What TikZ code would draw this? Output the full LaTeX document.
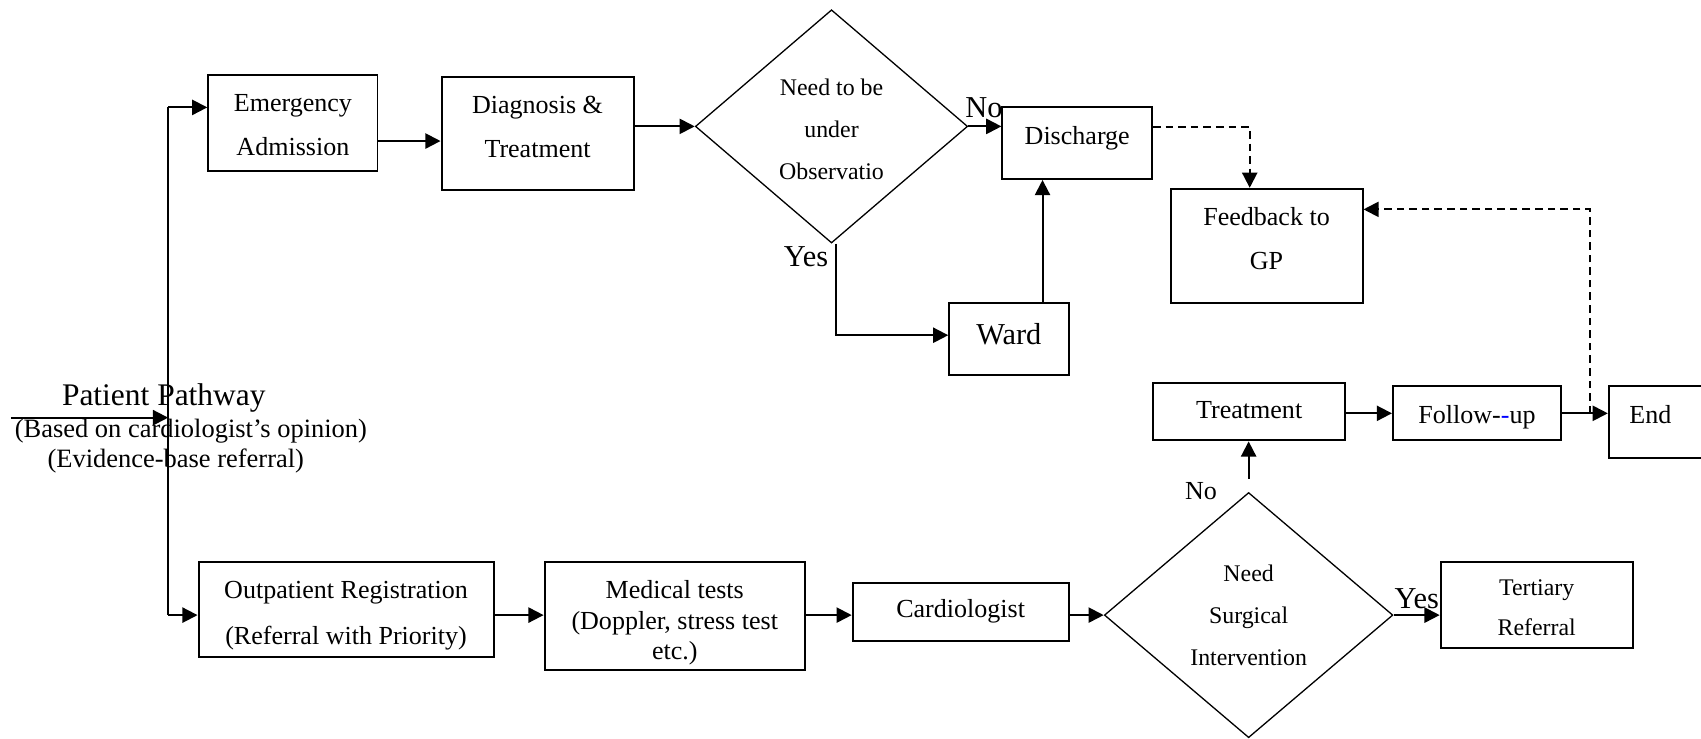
\documentclass[tikz,border=0pt]{standalone}
\usepackage{fontspec}
\setmainfont{Liberation Serif}
\usetikzlibrary{arrows.meta,shapes.geometric}
% fixed-size box content with text hanging from the top edge
\newcommand{\boxtext}[4]{\parbox[c][#2][t]{#1}{\centering\rule{0pt}{#3}#4\par}}

\begin{document}
\begin{tikzpicture}[x=0.5pt,y=-0.5pt,
  box/.style={draw,line width=0.9pt,inner sep=0pt,font=\fontsize{12}{20}\selectfont},
  decision/.style={draw,diamond,line width=0.6pt,inner sep=0pt,align=center,font=\fontsize{11}{19.5}\selectfont},
  arr/.style={line width=0.9pt,-{Triangle[length=7pt,width=7pt]}},
  link/.style={line width=0.9pt},
  dasharr/.style={line width=0.9pt,dash pattern=on 3.5pt off 2.3pt,-{Triangle[length=7pt,width=7pt]}},
  lbl/.style={inner sep=0pt,font=\fontsize{14}{16}\selectfont}
]
\useasboundingbox (0,0) rectangle (1568,681);

% upper branch: emergency route
\node[box] (emerg) at (270,113.5) {\boxtext{78pt}{44.5pt}{17pt}{Emergency\\Admission}};
\node[box] (diag) at (495.5,123) {\boxtext{88.5pt}{52pt}{17pt}{Diagnosis \&\\Treatment}};
\node[decision,minimum width=125.5pt,minimum height=107.5pt] (d1) at (766.5,116.5) {\rule{0pt}{10.5pt}Need to be\\under\\Observatio};
\node[box] (disch) at (993,132) {\boxtext{69pt}{33pt}{17pt}{Discharge}};
\node[box] (fb) at (1167.5,226.5) {\boxtext{88.5pt}{52.5pt}{17pt}{Feedback to\\GP}};
\node[box,font=\fontsize{14}{16}\selectfont] (ward) at (930,312.5) {\boxtext{55pt}{33.5pt}{19.5pt}{Ward}};

% right side: treatment and end
\node[box] (treat) at (1151.5,379.5) {\boxtext{88.5pt}{26.5pt}{16.5pt}{Treatment}};
\node[box] (follow) at (1361.5,381) {\boxtext{77.5pt}{25pt}{17pt}{Follow-\textcolor{blue}{-}up}};
\node[box] (end) at (1529,389) {\parbox[c][33pt][t]{46pt}{\raggedright\rule{0pt}{17pt}\hspace*{9.5pt}End\par}};

% lower branch: outpatient route
\node[box,font=\fontsize{12}{21}\selectfont] (outp) at (319,562) {\boxtext{136pt}{44pt}{17pt}{Outpatient Registration\\(Referral with Priority)}};
\node[box,font=\fontsize{12}{14}\selectfont] (med) at (622,568) {\boxtext{120pt}{50pt}{17pt}{Medical tests\\(Doppler, stress test\\etc.)}};
\node[box] (card) at (885.5,564) {\boxtext{99.5pt}{27pt}{16pt}{Cardiologist}};
\node[decision,minimum width=133pt,minimum height=113pt,font=\fontsize{11}{19.25}\selectfont] (d2) at (1151,567) {Need\\Surgical\\Intervention};
\node[box,font=\fontsize{11}{18.5}\selectfont] (tert) at (1416.5,557.5) {\boxtext{88.5pt}{39.5pt}{15.5pt}{Tertiary\\Referral}};

% branch labels
\node[lbl] (no1) at (907,99) {No};
\node[lbl] (yes1) at (743,237) {Yes};
\node[lbl,font=\fontsize{12}{14}\selectfont] (no2) at (1107,453) {No};
\node[lbl] (yes2) at (1306,552) {Yes};

% entry caption
\node[lbl,font=\fontsize{14.5}{16}\selectfont] (pp) at (151,367) {Patient Pathway};
\node[lbl,font=\fontsize{12.2}{14}\selectfont] (pp2) at (176,397) {(Based on cardiologist’s opinion)};
\node[lbl,font=\fontsize{12.2}{14}\selectfont] (pp3) at (162,425) {(Evidence-base referral)};

% entry and split
\coordinate (entry) at (10,385);
\coordinate (split) at (155,385);
\coordinate (upper) at (155,99);
\coordinate (lower) at (155,567);
\draw[arr] (entry) -- (split);
\draw[link] (upper) -- (lower);
\draw[arr] (upper) -- (upper -| emerg.west);
\draw[arr] (lower) -- (lower -| outp.west);

% upper flow
\draw[arr] (emerg.east |- 0,130) -- (diag.west |- 0,130);
\draw[arr] (diag.east |- d1.west) -- (d1.west);
\draw[arr] (d1.east) -- (d1.east -| disch.west);
\draw[dasharr] (disch.east |- 0,117) -| (fb.north -| 1152,0);
\draw[arr] ([xshift=2.25pt]d1.south) |- (ward.west |- 0,309);
\draw[arr] (ward.north -| 961,0) -- (disch.south -| 961,0);

% right flow
\coordinate (tap) at (1466,381);
\draw[dasharr] (tap) |- (fb.east |- 0,193);
\draw[arr] ([yshift=6pt]d2.north) -- (d2.north |- treat.south);
\draw[arr] (treat.east |- 0,381) -- (follow.west |- 0,381);
\draw[arr] (follow.east |- 0,381) -- (end.west |- 0,381);

% lower flow
\draw[arr] (outp.east |- 0,567) -- (med.west |- 0,567);
\draw[arr] (med.east |- 0,567) -- (card.west |- 0,567);
\draw[arr] (card.east |- d2.west) -- (d2.west);
\draw[arr] (d2.east) -- (d2.east -| tert.west);
\end{tikzpicture}
\end{document}
